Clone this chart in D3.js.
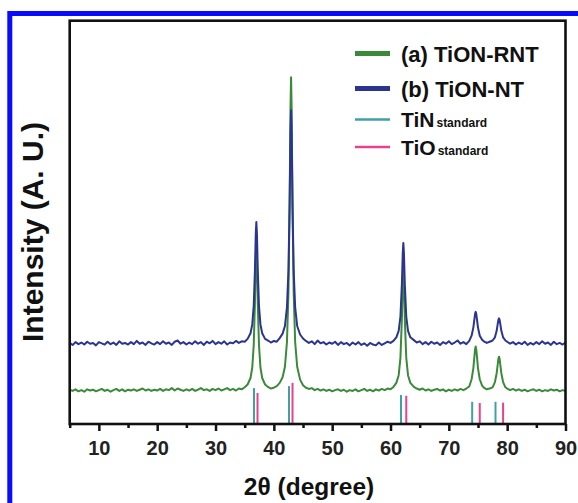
<html>
    <head>
        <title>TiON XRD</title>
        <script src="https://d3js.org/d3.v7.min.js"></script>
    </head>

    <style>
        body {
        margin: 0;
        background: #fff;
        }

        svg {
        width: 578px;
        height: 503px;
        display: block;
        }

        text {
        font-family: Arial, 'Liberation Sans', Helvetica, sans-serif;
        font-weight: 700;
        fill: #111;
        }

        .axis path, .axis line {
        stroke: #111;
        stroke-width: 2.5;
        }

        .axis text {
        font-size: 20px;
        fill: #222;
        }

        .frame {
        fill: none;
        stroke: #111;
        stroke-width: 2.6;
        }

        .border {
        fill: none;
        stroke: #0a0aff;
        stroke-width: 5;
        }

        .trace {
        fill: none;
        stroke-width: 2;
        stroke-linejoin: round;
        }

        text.title {
        font-size: 24.5px;
        }

        text.ylabel {
        font-size: 30px;
        }

        text.legend {
        font-size: 22px;
        }

        tspan.sub {
        font-size: 12px;
        }
    </style>

    <body>
        <svg></svg>

    <script>
        // 2theta (degree), intensity (a.u.)
        const tionRNT = [
            [5.0, 8.5], [5.5, 8.2], [6.0, 8.6], [6.5, 8.1], [7.0, 8.4], [7.5, 8.0], [8.0, 8.6], [8.5, 8.3],
            [9.0, 8.5], [9.5, 8.1], [10.0, 8.4], [10.5, 8.7], [11.0, 8.2], [11.5, 8.5], [12.0, 8.0], [12.5, 8.4],
            [13.0, 8.7], [13.5, 8.2], [14.0, 8.6], [14.5, 8.1], [15.0, 8.5], [15.5, 8.3], [16.0, 8.6], [16.5, 8.2],
            [17.0, 8.5], [17.5, 8.8], [18.0, 8.3], [18.5, 8.6], [19.0, 8.2], [19.5, 8.5], [20.0, 8.3], [20.5, 8.7],
            [21.0, 8.2], [21.5, 8.6], [22.0, 8.4], [22.5, 8.9], [23.0, 8.3], [23.5, 8.8], [24.0, 8.5], [24.5, 8.2],
            [25.0, 8.6], [25.5, 8.3], [26.0, 8.7], [26.5, 8.2], [27.0, 8.5], [27.5, 8.9], [28.0, 8.4], [28.5, 8.6],
            [29.0, 8.2], [29.5, 8.7], [30.0, 8.4], [30.5, 8.8], [31.0, 8.3], [31.5, 8.6], [32.0, 8.9], [32.5, 8.4],
            [33.0, 8.7], [33.5, 8.3], [34.0, 8.8], [34.5, 8.6], [35.0, 9.1],
            [35.5, 9.8], [36.0, 11.4], [36.3, 14.0], [36.55, 19.6], [36.75, 29.6], [36.9, 40.8], [37.0, 44.4],
            [37.1, 40.8], [37.25, 29.6], [37.45, 19.6], [37.7, 14.0], [38.0, 11.4], [38.5, 9.8], [39.0, 9.2],
            [39.5, 8.8], [40.0, 9.0], [40.5, 9.4], [41.0, 10.2], [41.5, 11.6], [41.9, 14.2], [42.25, 20.4],
            [42.5, 32.5], [42.7, 54.2], [42.85, 78.2], [42.95, 86.0], [43.05, 78.2], [43.2, 54.2], [43.4, 32.5],
            [43.65, 20.4], [44.0, 14.2], [44.5, 11.0], [45.0, 9.6], [45.5, 9.0], [46.0, 8.7], [46.5, 8.9],
            [47.0, 8.4], [47.5, 8.7], [48.0, 8.3], [48.5, 8.6], [49.0, 8.2], [49.5, 8.5], [50.0, 8.1], [50.5, 8.4],
            [51.0, 8.6], [51.5, 8.2], [52.0, 8.5], [52.5, 8.0], [53.0, 8.4], [53.5, 8.2], [54.0, 8.6], [54.5, 8.1],
            [55.0, 8.4], [55.5, 8.7], [56.0, 8.2], [56.5, 8.5], [57.0, 8.1], [57.5, 8.6], [58.0, 8.3], [58.5, 8.7],
            [59.0, 8.4], [59.5, 8.8], [60.0, 8.6], [60.5, 9.2], [61.0, 10.2], [61.4, 12.1], [61.7, 16.4],
            [61.95, 26.1], [62.1, 35.4], [62.2, 38.4], [62.3, 35.4], [62.45, 26.1], [62.7, 16.4], [63.0, 12.1],
            [63.4, 10.2], [64.0, 9.2], [64.5, 8.8], [65.0, 8.5], [65.5, 8.8], [66.0, 8.3], [66.5, 8.6], [67.0, 8.2],
            [67.5, 8.5], [68.0, 8.7], [68.5, 8.3], [69.0, 8.6], [69.5, 8.1], [70.0, 8.5], [70.5, 8.2], [71.0, 8.6],
            [71.5, 8.3], [72.0, 8.7], [72.5, 8.4], [73.0, 8.8], [73.5, 9.3], [73.9, 11.1], [74.2, 13.8],
            [74.4, 17.0], [74.5, 18.5], [74.6, 19.2], [74.7, 18.5], [74.8, 17.0], [75.0, 13.8], [75.3, 11.1],
            [75.7, 9.5], [76.0, 9.0], [76.5, 8.6], [77.0, 8.8], [77.5, 9.1], [77.9, 10.4], [78.2, 12.6],
            [78.4, 15.0], [78.5, 16.2], [78.6, 16.7], [78.7, 16.2], [78.8, 15.0], [79.0, 12.6], [79.3, 10.4],
            [79.7, 9.1], [80.0, 8.8], [80.5, 8.4], [81.0, 8.7], [81.5, 8.3], [82.0, 8.6], [82.5, 8.2], [83.0, 8.5],
            [83.5, 8.1], [84.0, 8.4], [84.5, 8.6], [85.0, 8.2], [85.5, 8.5], [86.0, 8.1], [86.5, 8.4], [87.0, 8.2],
            [87.5, 8.6], [88.0, 8.3], [88.5, 8.5], [89.0, 8.1], [89.5, 8.4], [90.0, 8.2]
        ];

        const tionNT = [
            [5.0, 20.1], [5.5, 19.6], [6.0, 20.3], [6.5, 19.8], [7.0, 20.2], [7.5, 19.7], [8.0, 20.4], [8.5, 19.9],
            [9.0, 20.1], [9.5, 19.5], [10.0, 20.3], [10.5, 20.0], [11.0, 19.7], [11.5, 20.4], [12.0, 19.8], [12.5, 20.2],
            [13.0, 19.6], [13.5, 20.5], [14.0, 19.9], [14.5, 20.1], [15.0, 19.7], [15.5, 20.3], [16.0, 19.8], [16.5, 20.6],
            [17.0, 19.9], [17.5, 20.2], [18.0, 19.6], [18.5, 20.4], [19.0, 20.0], [19.5, 19.7], [20.0, 20.3], [20.5, 19.8],
            [21.0, 20.5], [21.5, 19.9], [22.0, 20.2], [22.5, 19.6], [23.0, 20.4], [23.5, 20.7], [24.0, 19.9], [24.5, 20.3],
            [25.0, 19.7], [25.5, 20.2], [26.0, 19.8], [26.5, 20.5], [27.0, 19.9], [27.5, 20.3], [28.0, 19.6], [28.5, 20.4],
            [29.0, 20.0], [29.5, 20.6], [30.0, 19.8], [30.5, 20.3], [31.0, 19.9], [31.5, 20.5], [32.0, 19.7], [32.5, 20.2],
            [33.0, 20.0], [33.5, 20.6], [34.0, 20.1], [34.5, 20.5], [35.0, 20.4],
            [35.5, 21.1], [36.0, 22.5], [36.3, 24.7], [36.55, 29.3], [36.75, 37.8], [36.9, 47.1], [37.0, 50.1],
            [37.1, 47.1], [37.25, 37.8], [37.45, 29.3], [37.7, 24.7], [38.0, 22.5], [38.5, 21.1], [39.0, 20.7],
            [39.5, 20.2], [40.0, 20.6], [40.5, 20.4], [41.0, 21.3], [41.5, 22.4], [41.9, 24.3], [42.25, 29.0],
            [42.5, 37.9], [42.7, 54.1], [42.85, 72.0], [42.95, 77.8], [43.05, 72.0], [43.2, 54.1], [43.4, 37.9],
            [43.65, 29.0], [44.0, 24.3], [44.5, 22.2], [45.0, 21.2], [45.5, 20.6], [46.0, 20.1], [46.5, 20.5],
            [47.0, 19.8], [47.5, 20.7], [48.0, 20.0], [48.5, 20.3], [49.0, 19.7], [49.5, 20.2], [50.0, 19.9], [50.5, 20.4],
            [51.0, 19.6], [51.5, 20.3], [52.0, 19.8], [52.5, 20.1], [53.0, 19.5], [53.5, 20.2], [54.0, 19.7], [54.5, 20.3],
            [55.0, 19.6], [55.5, 20.0], [56.0, 19.4], [56.5, 20.1], [57.0, 19.7], [57.5, 19.5], [58.0, 20.2], [58.5, 19.6],
            [59.0, 20.0], [59.5, 20.4], [60.0, 20.1], [60.5, 20.6], [61.0, 21.5], [61.4, 23.1], [61.7, 26.6],
            [61.95, 34.7], [62.1, 42.4], [62.2, 44.9], [62.3, 42.4], [62.45, 34.7], [62.7, 26.6], [63.0, 23.1],
            [63.4, 21.5], [64.0, 20.8], [64.5, 20.2], [65.0, 20.5], [65.5, 19.8], [66.0, 20.3], [66.5, 19.7], [67.0, 20.4],
            [67.5, 19.9], [68.0, 20.2], [68.5, 19.6], [69.0, 20.3], [69.5, 19.9], [70.0, 20.5], [70.5, 19.8], [71.0, 20.2],
            [71.5, 20.7], [72.0, 19.9], [72.5, 20.3], [73.0, 19.8], [73.5, 20.6], [73.9, 21.9], [74.2, 23.9],
            [74.4, 26.2], [74.5, 27.3], [74.6, 27.8], [74.7, 27.3], [74.8, 26.2], [75.0, 23.9], [75.3, 21.9],
            [75.7, 20.9], [76.0, 20.5], [76.5, 20.1], [77.0, 20.4], [77.5, 20.7], [77.9, 21.5], [78.2, 23.1],
            [78.4, 25.0], [78.5, 25.8], [78.6, 26.2], [78.7, 25.8], [78.8, 25.0], [79.0, 23.1], [79.3, 21.5],
            [79.7, 20.7], [80.0, 20.4], [80.5, 19.9], [81.0, 20.3], [81.5, 19.7], [82.0, 20.2], [82.5, 19.8], [83.0, 20.4],
            [83.5, 19.6], [84.0, 20.1], [84.5, 19.7], [85.0, 20.3], [85.5, 19.8], [86.0, 20.5], [86.5, 19.9], [87.0, 20.2],
            [87.5, 19.6], [88.0, 20.4], [88.5, 19.8], [89.0, 20.1], [89.5, 19.7], [90.0, 20.2]
        ];

        // reference patterns (stick positions and heights)
        const tinPos = [36.6, 42.6, 61.8, 74.0, 78.0];
        const tinHeight = [8.9, 9.4, 7.2, 5.5, 5.5];
        const tioPos = [37.2, 43.2, 62.7, 75.3, 79.3];
        const tioHeight = [7.7, 10.2, 7.0, 5.2, 5.3];

        const majorTicks = [10, 20, 30, 40, 50, 60, 70, 80, 90];
        const minorTicks = [5, 15, 25, 35, 45, 55, 65, 75, 85];

        const legendItems = [
            { label: '(a) TiON-RNT', sub: '', color: '#3a8a3a', width: 5 },
            { label: '(b) TiON-NT', sub: '', color: '#2b3590', width: 5 },
            { label: 'TiN', sub: 'standard', color: '#3fa0a6', width: 2.5 },
            { label: 'TiO', sub: 'standard', color: '#e8428f', width: 2.5 }
        ];

        const svg = d3.select('svg');

        const plotLeft = 69.7;
        const plotRight = 565.5;
        const plotTop = 20.7;
        const plotBottom = 424;

        const xScale = d3.scaleLinear()
        .domain([5, 90])
        .range([plotLeft, plotRight]);

        const yScale = d3.scaleLinear()
        .domain([0, 100])
        .range([plotBottom, plotTop]);

        // blue outer border, partly outside the window
        svg.append('rect')
        .attr('class', 'border')
        .attr('x', 9.8)
        .attr('y', 13.5)
        .attr('width', 600)
        .attr('height', 520);

        // reference sticks
        const sticks = [
            { pos: tinPos, h: tinHeight, color: legendItems[2].color },
            { pos: tioPos, h: tioHeight, color: legendItems[3].color }
        ];

        sticks.forEach((s) => {
            svg.append('g')
            .selectAll('line')
            .data(s.pos)
            .enter()
            .append('line')
            .attr('x1', (d) => xScale(d))
            .attr('x2', (d) => xScale(d))
            .attr('y1', yScale(0))
            .attr('y2', (d, i) => yScale(s.h[i]))
            .attr('stroke', s.color)
            .attr('stroke-width', 2);
        });

        const line = d3.line()
        .x((d) => xScale(d[0]))
        .y((d) => yScale(d[1]));

        svg.append('path')
        .datum(tionRNT)
        .attr('class', 'trace')
        .attr('stroke', legendItems[0].color)
        .attr('d', line);

        svg.append('path')
        .datum(tionNT)
        .attr('class', 'trace')
        .attr('stroke', legendItems[1].color)
        .attr('d', line);

        // frame
        svg.append('rect')
        .attr('class', 'frame')
        .attr('x', plotLeft)
        .attr('y', plotTop)
        .attr('width', plotRight - plotLeft)
        .attr('height', plotBottom - plotTop);

        const xAxis = svg.append('g')
        .attr('class', 'axis')
        .attr('transform', `translate(0, ${plotBottom})`)
        .call(d3.axisBottom(xScale)
            .tickValues(majorTicks)
            .tickSize(7)
            .tickSizeOuter(0)
            .tickPadding(10)
            .tickFormat(d3.format('d')));

        xAxis.select('.domain').remove();

        svg.append('g')
        .attr('class', 'axis')
        .attr('transform', `translate(0, ${plotBottom})`)
        .call(d3.axisBottom(xScale)
            .tickValues(minorTicks)
            .tickSize(4)
            .tickSizeOuter(0)
            .tickFormat(''))
        .select('.domain').remove();

        // legend
        const legend = svg.append('g')
        .attr('transform', 'translate(355, 0)');

        const legendY = [53.5, 88.5, 119.5, 147];
        const legendBase = [61.5, 96.5, 126.5, 154.5];

        legendItems.forEach((d, i) => {
            legend.append('line')
            .attr('x1', 0)
            .attr('x2', 35)
            .attr('y1', legendY[i])
            .attr('y2', legendY[i])
            .attr('stroke', d.color)
            .attr('stroke-width', d.width);

            const t = legend.append('text')
            .attr('class', 'legend')
            .attr('x', 46)
            .attr('y', legendBase[i])
            .style('font-size', d.sub ? '21px' : '22px');

            t.append('tspan').text(d.label);
            if (d.sub) {
                t.append('tspan')
                .attr('class', 'sub')
                .attr('dx', 2)
                .text(d.sub);
            }
        });

        svg.append('text')
        .attr('class', 'title')
        .attr('x', 309)
        .attr('y', 495)
        .attr('text-anchor', 'middle')
        .text('2\u03b8 (degree)');

        svg.append('text')
        .attr('class', 'ylabel')
        .attr('transform', 'translate(43, 232) rotate(-90)')
        .attr('text-anchor', 'middle')
        .text('Intensity (A. U.)');
    </script>
    </body>
</html>
